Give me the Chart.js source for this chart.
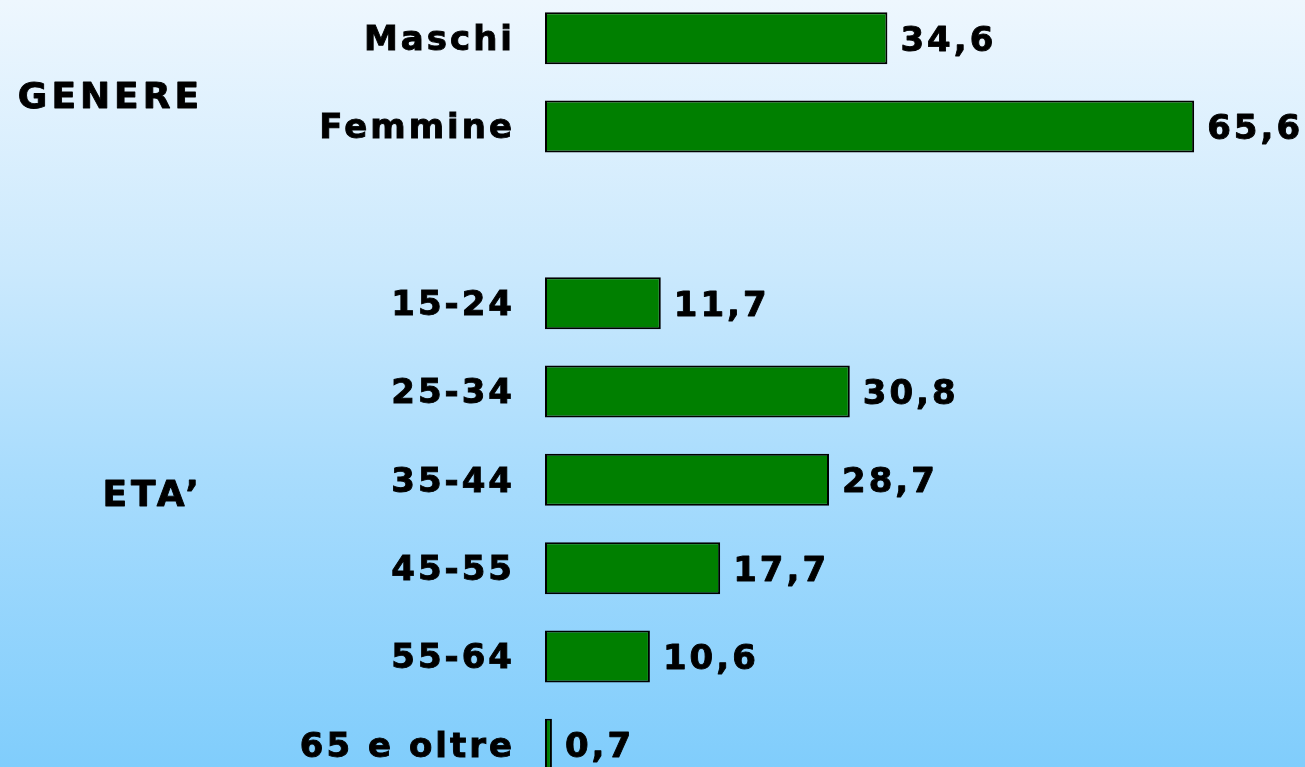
<!DOCTYPE html>
<html>
<head>
<meta charset="utf-8">
<script src="https://cdn.jsdelivr.net/npm/chart.js@4.4.1/dist/chart.umd.min.js"></script>
<style>
  html, body { margin: 0; padding: 0; }
  body {
    width: 1305px; height: 767px; overflow: hidden; position: relative;
    background: linear-gradient(to bottom, #eef7fe 0%, #cbe9fd 35%, #a8dcfd 62%, #80cdfc 100%);
  }
  #wrap { position: absolute; left: 0; top: -6px; width: 1305px; height: 795px; }
</style>
</head>
<body>
<div id="wrap"><canvas id="c"></canvas></div>
<script>
const categories = ['Maschi', 'Femmine', '', '15-24', '25-34', '35-44', '45-55', '55-64', '65 e oltre'];
const values = [34.6, 65.6, null, 11.7, 30.8, 28.7, 17.7, 10.6, 0.7];
const groupLabels = ['GENERE', 'ETA\u2019'];
const groupPositions = [0.64, 5.15]; // category-index positions of the group headings

const FONT = '"DejaVu Sans", Verdana, sans-serif';

const spacingPlugin = {
  id: 'spacing',
  beforeDraw(chart) { chart.ctx.letterSpacing = '3px'; }
};

function boldText(ctx, t, x, y) {
  ctx.lineWidth = 0.9;
  ctx.strokeStyle = '#000';
  ctx.lineJoin = 'round';
  ctx.strokeText(t, x, y);
  ctx.fillText(t, x, y);
}

const valueLabels = {
  id: 'valueLabels',
  afterDatasetsDraw(chart) {
    const ctx = chart.ctx;
    const meta = chart.getDatasetMeta(0);
    ctx.save();
    ctx.letterSpacing = '3px';
    ctx.font = 'bold 34px ' + FONT;
    ctx.fillStyle = '#000';
    ctx.textAlign = 'left';
    ctx.textBaseline = 'alphabetic';
    meta.data.forEach((bar, i) => {
      const v = values[i];
      if (v === null || v === undefined) return;
      boldText(ctx, String(v).replace('.', ','), bar.x + 13, bar.y + 12.5);
    });
    ctx.restore();
  }
};

const groupPlugin = {
  id: 'groups',
  afterDraw(chart) {
    const ctx = chart.ctx;
    const y = chart.scales.y;
    ctx.save();
    ctx.letterSpacing = '4px';
    ctx.font = 'bold 36px ' + FONT;
    ctx.fillStyle = '#000';
    ctx.textAlign = 'right';
    ctx.textBaseline = 'alphabetic';
    groupLabels.forEach((t, i) => {
      const py = y.getPixelForValue(groupPositions[i]);
      boldText(ctx, t, 203, py + 13);
    });
    ctx.restore();
  }
};

new Chart(document.getElementById('c'), {
  type: 'bar',
  data: {
    labels: categories,
    datasets: [{
      data: values,
      backgroundColor: '#007f00',
      borderColor: '#000000',
      borderWidth: 2,
      borderSkipped: false,
      barPercentage: 0.589,
      categoryPercentage: 1.0
    }]
  },
  options: {
    indexAxis: 'y',
    responsive: true,
    maintainAspectRatio: false,
    animation: false,
    layout: { padding: 0 },
    plugins: { legend: { display: false }, tooltip: { enabled: false } },
    scales: {
      x: { display: false, min: 0, max: 76.8 },
      y: {
        grid: { display: false, drawTicks: false },
        border: { display: false },
        ticks: {
          color: '#000',
          padding: 30,
          labelOffset: 3,
          autoSkip: false,
          textStrokeColor: '#000',
          textStrokeWidth: 0.9,
          font: { family: FONT, size: 34, weight: 'bold' }
        },
        afterFit(scale) {
          scale.width = 545;
          scale.paddingTop = 0;
          scale.paddingBottom = 0;
        }
      }
    }
  },
  plugins: [spacingPlugin, valueLabels, groupPlugin]
});
</script>
</body>
</html>
